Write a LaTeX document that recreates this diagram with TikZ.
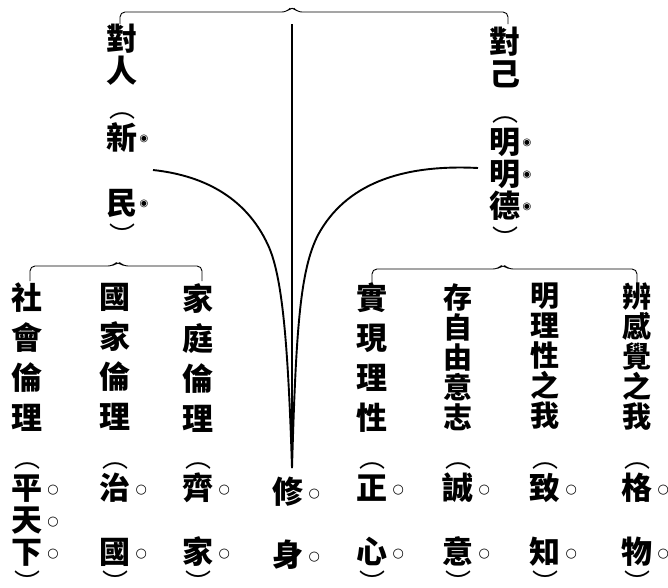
\documentclass[tikz,border=0pt]{standalone}
\usepackage{fontspec}
\newfontfamily\cjk{Noto Sans CJK TC}
\newfontfamily\symf{DejaVu Sans}
\usetikzlibrary{positioning}
\tikzset{
  zi/.style  ={font=\cjk\bfseries\fontsize{31}{40}\selectfont,align=center,
               inner sep=0pt,anchor=north},
  zif/.style ={zi,font=\cjk\bfseries\fontsize{29}{30}\selectfont},
  zip/.style ={zi,font=\cjk\bfseries\fontsize{31}{32}\selectfont},
  brace/.style={line width=0.9pt,rounded corners=5pt},
  stem/.style ={line width=1.9pt},
}
% emphasis marks beside a character
\newcommand{\qm}{\rlap{\kern5pt\raisebox{6pt}{\symf\bfseries\fontsize{13}{13}\selectfont ○}}}
\newcommand{\qd}{\rlap{\kern2pt\raisebox{8pt}{\symf\fontsize{10}{10}\selectfont ◉}}}
% vertical brackets
\newcommand{\lp}{{\mdseries\fontsize{26}{26}\selectfont ︵}}
\newcommand{\rp}{{\mdseries\fontsize{26}{26}\selectfont ︶}}

\begin{document}
\begin{tikzpicture}[x=1pt,y=-1pt]
\useasboundingbox (0,0) rectangle (668,587);

% ---- top: two halves -------------------------------------------------
\node[zip] (duiren) at (122,24) {對\\人};
\node[zip] (xinmin) at (122,112) {\lp\\[0pt]新\qd\\[33pt]民\qd\\[-1pt]\rp};
\node[zip] (duiji) at (505,27) {對\\己};
\node[zip] (mingde) at (505,116) {\lp\\[0pt]明\qd\\明\qd\\德\qd\\[-1pt]\rp};

% ---- lower left: ethics ----------------------------------------------
\node[zi] (shehui) at (27,283) {社\\會\\倫\\理};
\node[zi] (guojia) at (115,283) {國\\家\\倫\\理};
\node[zi] (jiating) at (198,283) {家\\庭\\倫\\理};
\node[zip] (pingtx) at (27,462) {\lp\\[0pt]平\qm\\天\qm\\下\qm\\[-3pt]\rp};
\node[zip] (zhiguo) at (115,462) {\lp\\[0pt]治\qm\\[32pt]國\qm\\[-3pt]\rp};
\node[zip] (qijia) at (198,462) {\lp\\[0pt]齊\qm\\[32pt]家\qm\\[-3pt]\rp};

% ---- centre ----------------------------------------------------------
\node[zip] (xiushen) at (288,477) {修\qm\\[31pt]身\qm};

% ---- lower right: the self -------------------------------------------
\node[zi] (shixian) at (372,283) {實\\現\\理\\性};
\node[zif] (ziyou) at (458,283) {存\\自\\由\\意\\志};
\node[zif] (lixing) at (545,283) {明\\理\\性\\之\\我};
\node[zif] (ganjue) at (637,283) {辨\\感\\覺\\之\\我};
\node[zip] (zhengxin) at (372,462) {\lp\\[0pt]正\qm\\[32pt]心\qm\\[-3pt]\rp};
\node[zip] (chengyi) at (458,462) {\lp\\[0pt]誠\qm\\[32pt]意\qm\\[-3pt]\rp};
\node[zip] (zhizhi) at (545,462) {\lp\\[0pt]致\qm\\[32pt]知\qm\\[-3pt]\rp};
\node[zip] (gewu) at (637,462) {\lp\\[0pt]格\qm\\[32pt]物\qm\\[-3pt]\rp};

% ---- braces ----------------------------------------------------------
\draw[brace] (120,24) -- (120,12) -- (287,12) -- (292,6) -- (297,12)
  -- (508,12) -- (508,24);
\draw[brace] (30,281) -- (30,266) -- (113,266) -- (118,261) -- (123,266)
  -- (202,266) -- (202,281);
\draw[brace] (372,283) -- (372,269) -- (498,269) -- (503,264) -- (508,269)
  -- (637,269) -- (637,283);

% ---- stems -----------------------------------------------------------
\coordinate (apex) at (292,24);
\coordinate (meet) at (292,468);
\coordinate (ml) at (153,170);
\coordinate (mr) at (478,168);
\draw[stem] (apex) -- (meet);
\draw[stem] (ml) .. controls (200,175) and (245,195) .. (268,245)
  .. controls (282,275) and (288,340) .. (meet);
\draw[stem] (mr) .. controls (400,164) and (345,185) .. (318,235)
  .. controls (300,270) and (296,330) .. (meet);
\end{tikzpicture}
\end{document}
